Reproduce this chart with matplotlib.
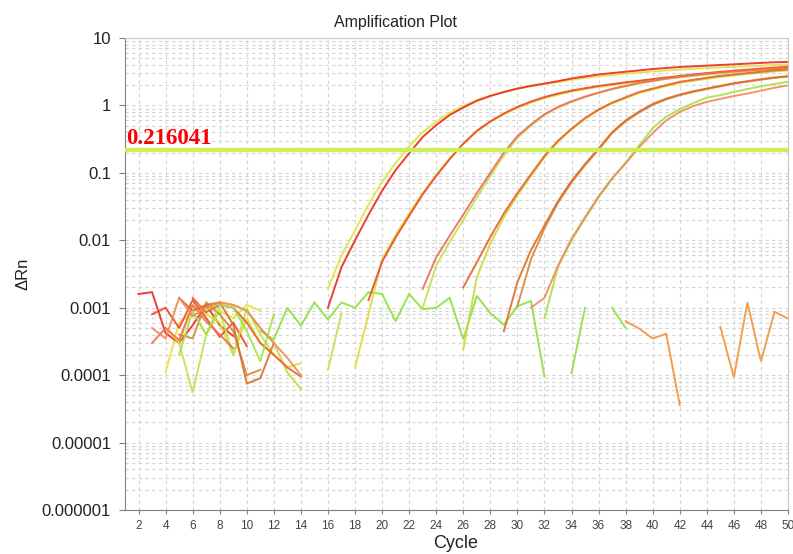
#! /usr/bin/env python3
# -*- coding: UTF-8 -*-
import matplotlib
matplotlib.use('Agg')
from matplotlib import pyplot as plt
from matplotlib.ticker import FixedLocator, LogLocator, NullFormatter

# ---- data (delta Rn per cycle) ----
# each well: list of (first cycle, values); gaps = values <= 0 not drawn
threshold = 0.216041

g1Red = [(2, [0.0016, 0.0017, 0.00042, 0.00030, 0.00055, 0.0011, 0.00055, 0.00038]),
         (16, [0.0010, 0.0040, 0.010, 0.024, 0.054, 0.11, 0.195, 0.34, 0.51, 0.72, 0.93, 1.17,
               1.38, 1.58, 1.78, 1.95, 2.11, 2.29, 2.51, 2.69, 2.88, 3.02, 3.16, 3.31, 3.47,
               3.59, 3.72, 3.80, 3.89, 3.98, 4.07, 4.17, 4.27, 4.37, 4.42])]
g1Yellow = [(4, [0.00011, 0.0006, 0.00085, 0.0004, 0.0009, 0.0007, 0.0011, 0.0009]),
            (16, [0.0019, 0.0060, 0.014, 0.034, 0.074, 0.14, 0.25, 0.40, 0.57, 0.77, 0.98, 1.20,
                  1.40, 1.58, 1.76, 1.92, 2.07, 2.22, 2.40, 2.55, 2.70, 2.83, 2.96, 3.08, 3.20,
                  3.30, 3.40, 3.50, 3.58, 3.66, 3.74, 3.82, 3.90, 3.98, 4.05])]
g2Red = [(3, [0.0008, 0.0010, 0.00050, 0.0013, 0.00070, 0.00037, 0.00060, 0.00027]),
         (19, [0.0013, 0.0048, 0.011, 0.023, 0.048, 0.090, 0.16, 0.27, 0.42, 0.58, 0.76, 0.95,
               1.14, 1.33, 1.50, 1.66, 1.80, 1.94, 2.07, 2.20, 2.32, 2.46, 2.60, 2.74, 2.88,
               3.02, 3.15, 3.28, 3.40, 3.52, 3.64, 3.76])]
g2Yellow = [(4, [0.00050, 0.00030, 0.00110, 0.00080, 0.00060, 0.00020, 0.00070, 0.00030,
                 0.00020, 0.00013, 0.00015]),
            (18, [0.00013, 0.0008, 0.0052, 0.012, 0.025, 0.050, 0.093, 0.165, 0.27, 0.41, 0.57,
                  0.74, 0.92, 1.10, 1.28, 1.44, 1.60, 1.74, 1.88, 2.01, 2.14, 2.26, 2.39, 2.52,
                  2.65, 2.78, 2.91, 3.04, 3.16, 3.28, 3.40, 3.52, 3.64])]
g3Red = [(3, [0.00030, 0.00050, 0.00033, 0.00110, 0.00062, 0.00040, 0.00025]),
         (23, [0.0019, 0.0056, 0.0117, 0.024, 0.050, 0.10, 0.20, 0.35, 0.52, 0.74, 0.95, 1.15,
               1.35, 1.55, 1.76, 1.95, 2.16, 2.32, 2.50, 2.66, 2.80, 2.94, 3.07, 3.19, 3.30,
               3.41, 3.52, 3.62])]
g3Green = [(5, [0.00030, 0.000055, 0.00040, 0.00090, 0.00020, 0.00098, 0.00040, 0.00020]),
           (16, [0.00012, 0.00083]),
           (23, [0.0010, 0.0042, 0.0095, 0.020, 0.043, 0.090, 0.18, 0.33, 0.50, 0.72, 0.93,
                 1.13, 1.33, 1.53, 1.73, 1.92, 2.12, 2.29, 2.46, 2.61, 2.75, 2.88, 3.01, 3.13,
                 3.24, 3.35, 3.46, 3.56])]
g4Red = [(6, [0.00140, 0.00085, 0.00110, 0.00100, 0.00060, 0.00030, 0.00020, 0.00013, 0.000095]),
         (26, [0.0020, 0.0047, 0.0112, 0.025, 0.050, 0.095, 0.178, 0.30, 0.45, 0.65, 0.87, 1.10,
               1.32, 1.58, 1.78, 2.00, 2.24, 2.40, 2.57, 2.75, 2.88, 3.02, 3.16, 3.31, 3.43])]
g4Green = [(7, [0.0009, 0.0012, 0.0011, 0.00090, 0.00050, 0.00030, 0.00011, 0.000062]),
           (26, [0.00024, 0.0028, 0.0090, 0.022, 0.046, 0.090, 0.17, 0.29, 0.44, 0.63, 0.85,
                 1.07, 1.28, 1.53, 1.72, 1.93, 2.16, 2.32, 2.48, 2.65, 2.78, 2.92, 3.05, 3.19,
                 3.30])]
g5Orange = [(5, [0.0014, 0.0009, 0.0011, 0.0012, 0.00056, 0.000075, 0.00009, 0.00030]),
            (29, [0.00045, 0.0024, 0.0071, 0.0166, 0.038, 0.076, 0.135, 0.23, 0.40, 0.60, 0.81,
                  1.05, 1.26, 1.45, 1.62, 1.78, 1.95, 2.14, 2.29, 2.45, 2.60, 2.72])]
g5Brown = [(5, [0.0004, 0.00035, 0.0012, 0.0008, 0.00045, 0.0001, 0.00012]),
           (30, [0.00105, 0.0052, 0.0150, 0.036, 0.072, 0.13, 0.22, 0.39, 0.58, 0.79, 1.02,
                 1.23, 1.42, 1.59, 1.75, 1.92, 2.10, 2.25, 2.41, 2.56, 2.68])]
g6Green = [(5, [0.00020, 0.00090, 0.00040, 0.0011, 0.0010, 0.00045, 0.00016, 0.0008]),
           (32, [0.0007, 0.0040, 0.0100, 0.021, 0.043, 0.081, 0.142, 0.255, 0.46, 0.68, 0.88,
                 1.08, 1.30, 1.42, 1.58, 1.75, 1.92, 2.08, 2.24])]
g6Salmon = [(3, [0.00050, 0.00035, 0.0014, 0.00075, 0.0010, 0.0012, 0.0011, 0.00090, 0.00050,
                 0.00030, 0.00018, 0.0001]),
            (31, [0.0010, 0.0014, 0.0042, 0.0105, 0.022, 0.045, 0.083, 0.138, 0.24, 0.39, 0.60,
                  0.80, 0.98, 1.13, 1.25, 1.38, 1.50, 1.65, 1.83, 1.98])]
# no-template wells (never amplify)
ntcGreen = [(11, [0.00045, 0.00034, 0.0010, 0.00054, 0.0012, 0.00067, 0.0012, 0.0010, 0.0017,
                  0.0016, 0.00063, 0.0016, 0.00095, 0.0010, 0.0014, 0.00034, 0.0015, 0.00083,
                  0.00056, 0.00105, 0.00126, 0.000095]),
            (34, [0.000107, 0.0010]),
            (37, [0.0010, 0.0005])]
ntcOrange = [(38, [0.00063, 0.00049, 0.00035, 0.00041, 0.000036]),
             (45, [0.00052, 0.000093, 0.0012, 0.00016, 0.00087, 0.00069])]

wells = [(ntcGreen, '#8ee040'), (ntcOrange, '#f0953c'),
         (g1Yellow, '#e4e23c'), (g1Red, '#ec2a1c'),
         (g2Yellow, '#dcdc3a'), (g2Red, '#ea4a26'),
         (g3Green, '#bce44a'), (g3Red, '#f26a5a'),
         (g4Green, '#c8da3a'), (g4Red, '#e8622a'),
         (g5Brown, '#d08a34'), (g5Orange, '#dc6e2c'),
         (g6Green, '#a6e04a'), (g6Salmon, '#f08a5a')]

xTicks = list(range(2, 51, 2))
yTicks = [1e-6, 1e-5, 1e-4, 1e-3, 1e-2, 1e-1, 1, 10]
yTickLabels = ['0.000001', '0.00001', '0.0001', '0.001', '0.01', '0.1', '1', '10']

# ---- figure ----
plt.rcParams['font.family'] = ['Liberation Sans', 'DejaVu Sans']
fig = plt.figure(figsize=(7.93, 5.54), dpi=100)
ax = fig.add_axes([125 / 793, 1 - 510 / 554, 663 / 793, 472 / 554])

for segments, color in wells:
    for first, values in segments:
        cycles = [first + i for i in range(len(values))]
        ax.plot(cycles, values, color=color, lw=1.4, alpha=0.9, solid_joinstyle='miter')

# threshold line and its value
ax.axhline(threshold, color='#cdee5a', lw=3.2, zorder=5)
ax.text(1.05, threshold * 1.06, '%.6f' % threshold, color='#ff0000', fontsize=16.5,
        fontweight='bold', family=['Liberation Serif', 'DejaVu Serif'],
        ha='left', va='bottom', zorder=6)

ax.set_yscale('log')
ax.set_xlim(1, 50)
ax.set_ylim(1e-6, 10)

ax.xaxis.set_major_locator(FixedLocator(xTicks))
ax.set_xticklabels([str(t) for t in xTicks])
ax.yaxis.set_major_locator(FixedLocator(yTicks))
ax.set_yticklabels(yTickLabels)
ax.yaxis.set_minor_locator(LogLocator(base=10, subs=range(2, 10), numticks=20))
ax.yaxis.set_minor_formatter(NullFormatter())

ax.tick_params(axis='x', which='major', length=3, color='#808080', labelsize=8.5,
               labelcolor='#444444', pad=4)
ax.tick_params(axis='y', which='major', length=4, color='#808080', labelsize=12,
               labelcolor='#222222', pad=6)
ax.tick_params(axis='y', which='minor', length=0)

# dashed grid, minor lines too
gridStyle = dict(color='#d4d4d4', lw=0.8, ls=(0, (3, 3)))
ax.grid(which='major', axis='both', **gridStyle)
ax.grid(which='minor', axis='y', **gridStyle)
ax.set_axisbelow(True)

for side in ['left', 'bottom']:
    ax.spines[side].set_color('#808080')
for side in ['top', 'right']:
    ax.spines[side].set_color('#c8c8c8')

fig.text(396 / 793, 1 - 22 / 554, 'Amplification Plot', ha='center', va='center', fontsize=11.5,
         color='#222222')
fig.text(456 / 793, 1 - 544 / 554, 'Cycle', ha='center', va='center', fontsize=13,
         color='#222222')
ax.set_ylabel('ΔRn', fontsize=12, color='#222222', labelpad=8)

fig.savefig('out.png', dpi=100)
